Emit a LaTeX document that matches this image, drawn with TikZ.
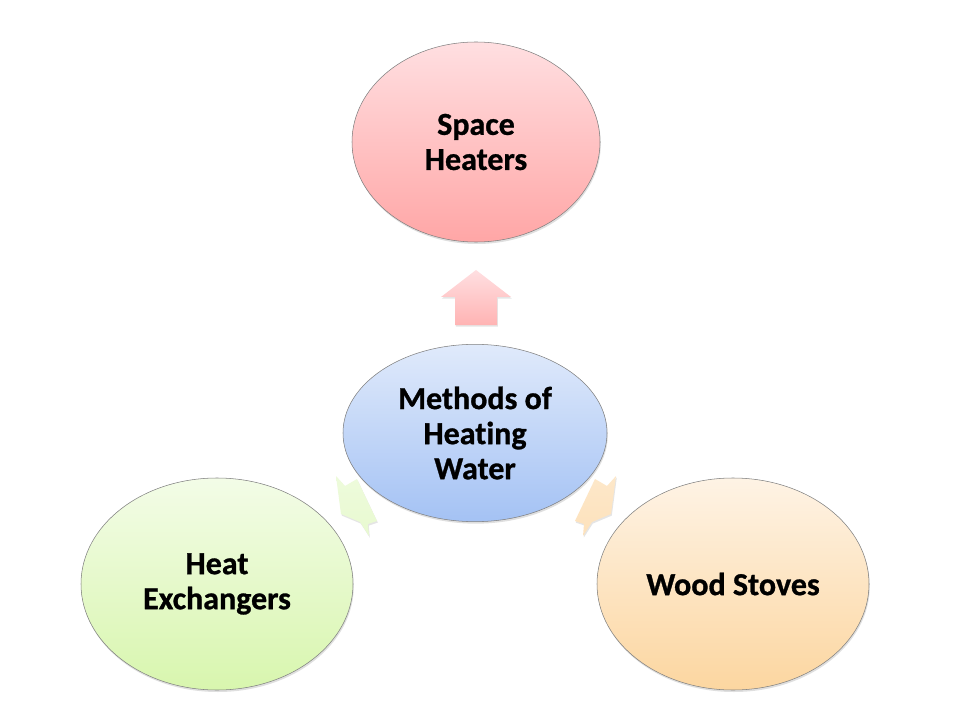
\documentclass[tikz,border=0pt]{standalone}
\usepackage{fontspec}
\setmainfont{Carlito}[Ligatures=NoCommon, BoldFeatures={FakeBold=0.9}]
\usepackage{xcolor}
\usetikzlibrary{shapes.geometric,shadows}

\definecolor{hubtop}{RGB}{224,234,251}
\definecolor{hubbot}{RGB}{164,194,244}
\definecolor{redtop}{RGB}{255,223,225}
\definecolor{redbot}{RGB}{255,166,166}
\definecolor{greentop}{RGB}{243,252,231}
\definecolor{greenbot}{RGB}{216,246,174}
\definecolor{orangetop}{RGB}{254,243,229}
\definecolor{orangebot}{RGB}{252,214,160}

\begin{document}
\begin{tikzpicture}[
  x=0.75pt, y=-0.75pt,
  font=\fontsize{24}{26.3}\selectfont\bfseries,
  bubble/.style={ellipse, draw=black!50, thin, inner sep=0pt, align=center,
                 drop shadow={opacity=0.25, shadow xshift=0.6pt, shadow yshift=-1.5pt}},
  hub/.style={bubble, minimum width=198pt, minimum height=133pt,
              top color=hubtop, bottom color=hubbot},
  topbubble/.style={bubble, minimum width=186pt, minimum height=150pt},
  sidebubble/.style={bubble, minimum width=204pt, minimum height=159pt},
  blockarrow/.style={draw=none,
                     drop shadow={opacity=0.2, shadow xshift=0.6pt, shadow yshift=-1.2pt}},
]
\useasboundingbox[fill=white] (0,0) rectangle (960,720);

% centre and the three methods
\node[hub] (water) at (475,433) {Methods of\\Heating\\Water};
\node[topbubble, top color=redtop, bottom color=redbot] (space) at (476,142) {Space\\Heaters};
\node[sidebubble, top color=greentop, bottom color=greenbot] (exch) at (217,584) {Heat\\Exchangers};
\node[sidebubble, top color=orangetop, bottom color=orangebot] (wood) at (733,584) {Wood Stoves};

% block arrows from the centre
\shade[blockarrow, top color=redtop, bottom color=redbot!85]
  (476,270) -- (511,297) -- (497,297) -- (497,325) -- (455,325) -- (455,297) -- (441,297) -- cycle;
\shade[blockarrow, top color=greentop!80!greenbot, bottom color=greentop!60!greenbot]
  (336,476) -- (345,486) -- (357,479) -- (377,521) -- (368,524) -- (369,536)
  -- (360,522) -- (341,514) -- cycle;
\shade[blockarrow, top color=orangetop!60!orangebot, bottom color=orangetop!40!orangebot]
  (616,476) -- (607,486) -- (595,479) -- (575,521) -- (584,524) -- (583,536)
  -- (592,522) -- (611,514) -- cycle;
\end{tikzpicture}
\end{document}
